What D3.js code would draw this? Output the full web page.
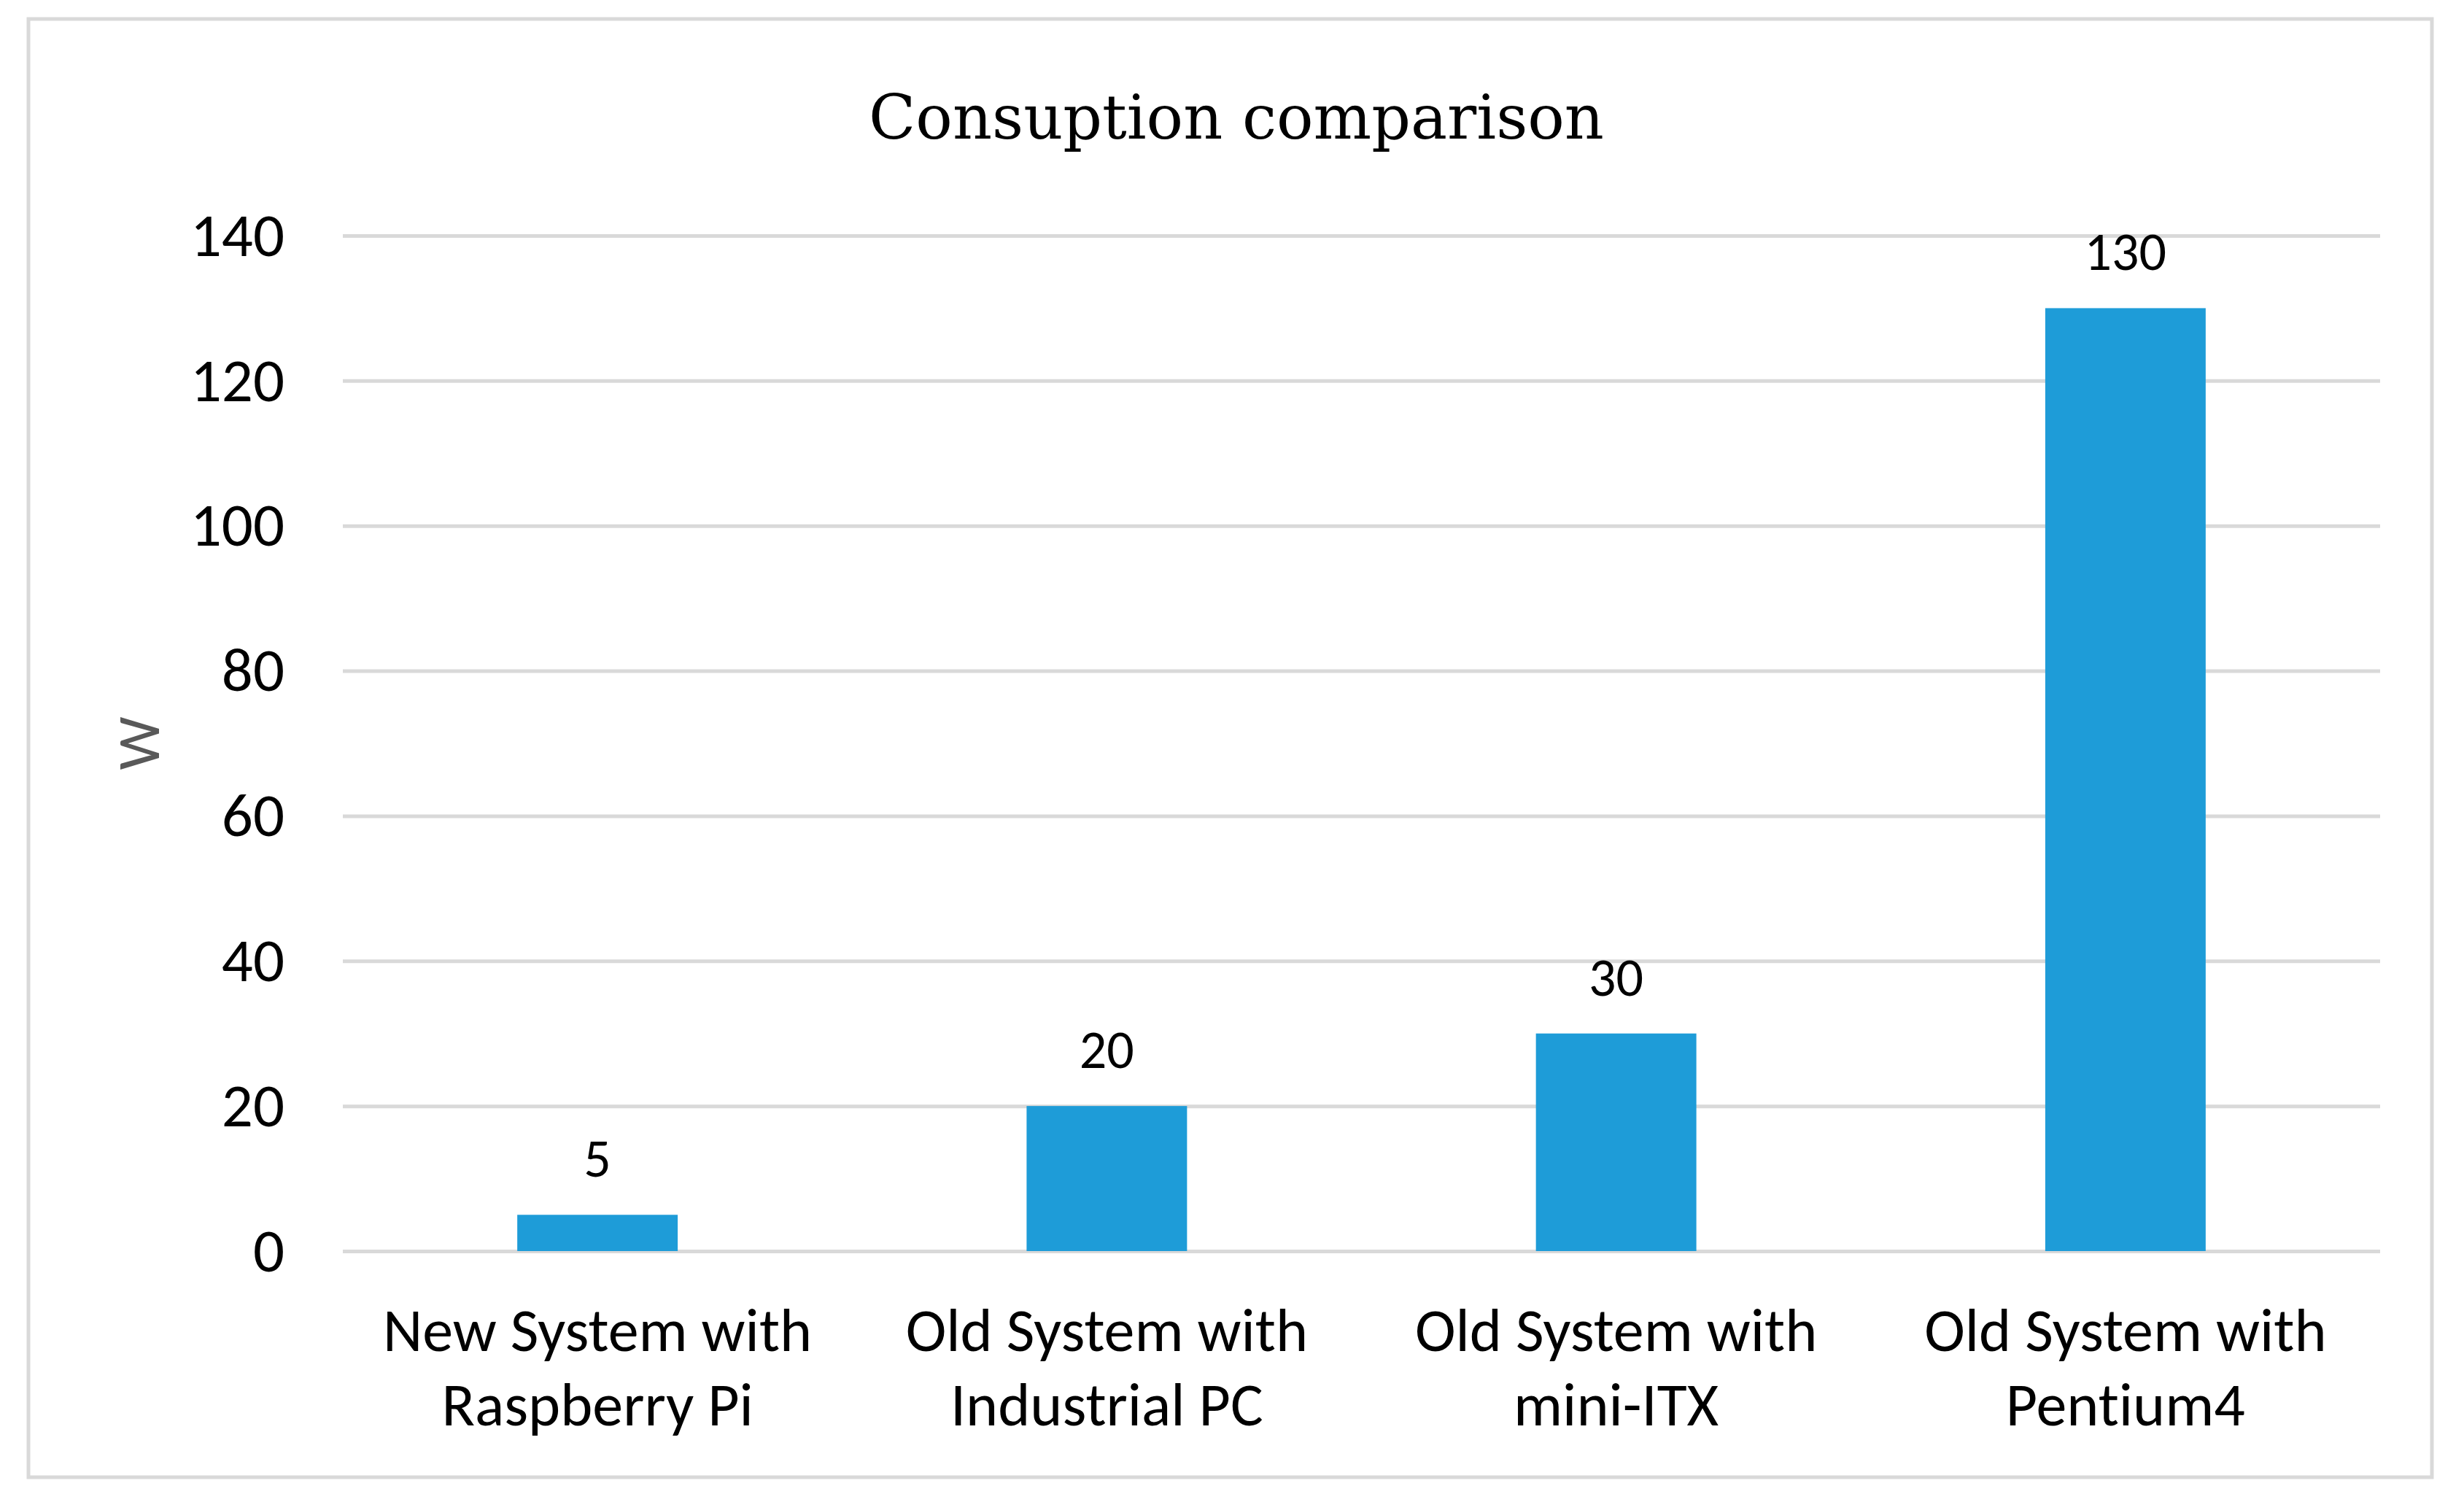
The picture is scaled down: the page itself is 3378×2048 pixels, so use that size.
<!DOCTYPE html>
<html>
<head>
<meta charset="utf-8">
<script src="https://cdn.jsdelivr.net/npm/d3@7"></script>
<style>
  html, body { margin: 0; padding: 0; background: #fff; }
  svg { display: block; }
  text { font-variant-ligatures: none; }
</style>
</head>
<body>
<div id="chart"></div>
<script>
// chart data
const categories = [
  ['New System with', 'Raspberry Pi'],
  ['Old System with', 'Industrial PC'],
  ['Old System with', 'mini-ITX'],
  ['Old System with', 'Pentium4']
];
const values = [5, 20, 30, 130];
const yTicks = [0, 20, 40, 60, 80, 100, 120, 140];
const titleText = 'Consuption comparison';
const yLabel = 'W';

const width = 3378;
const height = 2048;
const margin = { top: 323, right: 115, bottom: 333, left: 470 };

const sansFont = "Carlito, Calibri, 'Open Sans', sans-serif";
const serifFont = "'Palatino Linotype', 'Book Antiqua', Palatino, 'DejaVu Serif', serif";

const svg = d3.select('#chart')
  .append('svg')
  .attr('width', width)
  .attr('height', height);

svg.append('rect')
  .attr('width', width)
  .attr('height', height)
  .attr('fill', '#fff');

// outer frame
svg.append('rect')
  .attr('x', 39)
  .attr('y', 26)
  .attr('width', 3295)
  .attr('height', 1999)
  .attr('fill', 'none')
  .attr('stroke', '#d9d9d9')
  .attr('stroke-width', 5);

const plotW = width - margin.left - margin.right;
const plotH = height - margin.top - margin.bottom;

const x = d3.scaleBand()
  .domain(d3.range(categories.length))
  .range([0, plotW])
  .paddingInner(0.685)
  .paddingOuter(0.3425);

const y = d3.scaleLinear()
  .domain([0, 140])
  .range([plotH, 0]);

const g = svg.append('g')
  .attr('transform', `translate(${margin.left},${margin.top})`);

// gridlines + tick labels
const yAxis = g.append('g')
  .call(d3.axisLeft(y)
    .tickValues(yTicks)
    .tickSize(-plotW)
    .tickPadding(80)
    .tickFormat(d3.format('d')));

yAxis.select('.domain').remove();
yAxis.selectAll('.tick line')
  .attr('stroke', '#d9d9d9')
  .attr('stroke-width', 5);
yAxis.selectAll('.tick text')
  .attr('fill', '#000')
  .style('font-family', sansFont)
  .style('font-size', '85px');

// bars
g.selectAll('.bar')
  .data(values)
  .enter()
  .append('rect')
  .attr('class', 'bar')
  .attr('x', (d, i) => x(i))
  .attr('y', d => y(d))
  .attr('width', x.bandwidth())
  .attr('height', d => plotH - y(d))
  .attr('fill', '#1e9cd8');

// value labels
g.selectAll('.val')
  .data(values)
  .enter()
  .append('text')
  .attr('class', 'val')
  .attr('x', (d, i) => x(i) + x.bandwidth() / 2)
  .attr('y', d => y(d) - 52)
  .attr('text-anchor', 'middle')
  .attr('fill', '#000')
  .style('font-family', sansFont)
  .style('font-size', '74px')
  .text(d => d);

// category labels
const catG = g.selectAll('.cat')
  .data(categories)
  .enter()
  .append('text')
  .attr('class', 'cat')
  .attr('text-anchor', 'middle')
  .attr('fill', '#000')
  .style('font-family', sansFont)
  .style('font-size', '84px');

catG.each(function(lines, i) {
  const cx = x(i) + x.bandwidth() / 2;
  d3.select(this).selectAll('tspan')
    .data(lines)
    .enter()
    .append('tspan')
    .attr('x', cx)
    .attr('y', (d, j) => plotH + 137 + j * 102)
    .text(d => d);
});

// y axis title
svg.append('text')
  .attr('transform', 'translate(218,1019) rotate(-90)')
  .attr('text-anchor', 'middle')
  .attr('fill', '#595959')
  .style('font-family', sansFont)
  .style('font-size', '82px')
  .text(yLabel);

// chart title
svg.append('text')
  .attr('x', 1695)
  .attr('y', 190)
  .attr('text-anchor', 'middle')
  .attr('fill', '#000')
  .style('font-family', serifFont)
  .style('font-size', '84px')
  .text(titleText);
</script>
</body>
</html>
